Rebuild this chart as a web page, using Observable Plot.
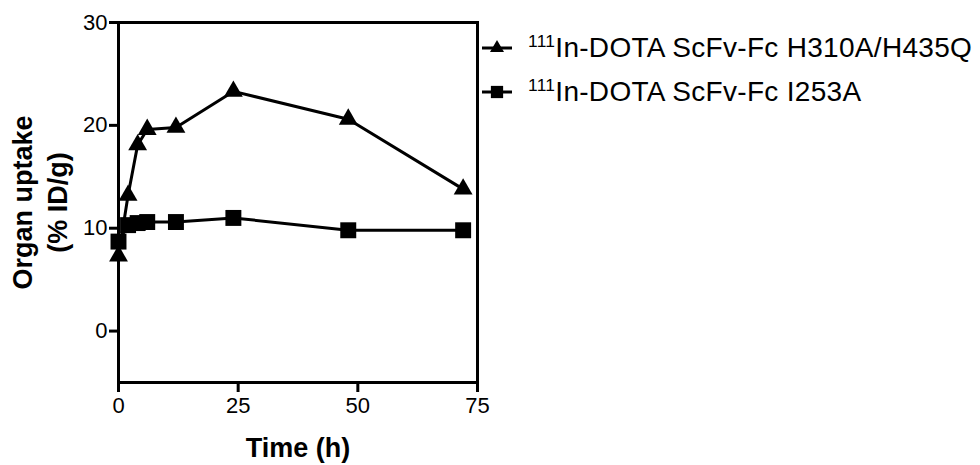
<!DOCTYPE html>
<html>
<head>
<meta charset="utf-8">
<script src="https://cdn.jsdelivr.net/npm/d3@7"></script>
<script src="https://cdn.jsdelivr.net/npm/@observablehq/plot@0.6"></script>
<style>
  html, body { margin: 0; padding: 0; background: white; }
  #wrap { position: relative; width: 980px; height: 465px; font-family: "Liberation Sans", Arial, sans-serif; }
  #legend { position: absolute; left: 480px; top: 26px; }
  .row { display: flex; align-items: center; height: 44px; white-space: nowrap; font-size: 28px; letter-spacing: 0.3px; color: black; }
  .row svg { margin-right: 16px; display: block; }
  .row sup { font-size: 0.62em; vertical-align: 0.55em; line-height: 0; }
</style>
</head>
<body>
<div id="wrap"><div id="legend"></div></div>
<script>
const times = [0, 2, 4, 6, 12, 24, 48, 72];
const uptakeH310A = [7.3, 13.2, 18.1, 19.6, 19.8, 23.3, 20.6, 13.8];
const uptakeI253A = [8.7, 10.3, 10.5, 10.6, 10.6, 11.0, 9.8, 9.8];
const seriesNames = ["111In-DOTA ScFv-Fc H310A/H435Q", "111In-DOTA ScFv-Fc I253A"];
const seriesSymbols = ["triangle", "square"];
const xTicks = [0, 25, 50, 75];
const yTicks = [0, 10, 20, 30];
const xLabel = "Time (h)";
const yLabel = "Organ uptake\n(% ID/g)";

const rows = [];
times.forEach((t, i) => {
  rows.push({t, v: uptakeH310A[i], s: seriesNames[0]});
  rows.push({t, v: uptakeI253A[i], s: seriesNames[1]});
});
const triRows = rows.filter(d => d.s === seriesNames[0]);
const sqRows = rows.filter(d => d.s === seriesNames[1]);

const chart = Plot.plot({
  width: 980,
  height: 465,
  marginLeft: 118,
  marginRight: 503,
  marginTop: 22,
  marginBottom: 83,
  style: {fontFamily: "Liberation Sans, Arial, sans-serif", fontSize: "22px", color: "black", background: "white", overflow: "visible"},
  x: {domain: [0, 75], label: null},
  y: {domain: [-5, 30], label: null},
  marks: [
    Plot.frame({stroke: "black", strokeWidth: 3}),
    Plot.axisX({ticks: xTicks, tickSize: 10, tickPadding: 5, strokeWidth: 3, fontSize: 22, label: null, tickFormat: d => String(d)}),
    Plot.axisY({ticks: yTicks, tickSize: 9, tickPadding: 2, strokeWidth: 3, fontSize: 22, label: null, tickFormat: d => String(d)}),
    Plot.line(rows, {x: "t", y: "v", z: "s", stroke: "black", strokeWidth: 3}),
    Plot.dot(triRows, {x: "t", y: "v", symbol: "triangle", r: 7, fill: "black", stroke: "none"}),
    Plot.dot(sqRows, {x: "t", y: "v", symbol: "square", r: 9, fill: "black", stroke: "none"}),
    Plot.text([xLabel], {frameAnchor: "bottom", dy: 74, fontWeight: "bold", fontSize: 27, fill: "black"}),
    Plot.text([yLabel], {frameAnchor: "left", textAnchor: "middle", rotate: -90, dx: -80, fontWeight: "bold", fontSize: 27, lineHeight: 1.3, fill: "black"})
  ]
});
document.getElementById("wrap").prepend(chart);

// legend
const legend = d3.select("#legend");
seriesNames.forEach((name, i) => {
  const row = legend.append("div").attr("class", "row");
  const svg = row.append("svg").attr("width", 32).attr("height", 20);
  svg.append("line").attr("x1", 2).attr("x2", 32).attr("y1", 10).attr("y2", 10).attr("stroke", "black").attr("stroke-width", 3);
  const sym = seriesSymbols[i] === "triangle" ? d3.symbolTriangle : d3.symbolSquare;
  const size = seriesSymbols[i] === "triangle" ? 85 : 150;
  svg.append("path").attr("d", d3.symbol(sym, size)()).attr("transform", "translate(17,10)").attr("fill", "black");
  const span = row.append("span");
  span.append("sup").text(name.slice(0, 3));
  span.append("span").text(name.slice(3));
});
</script>
</body>
</html>
